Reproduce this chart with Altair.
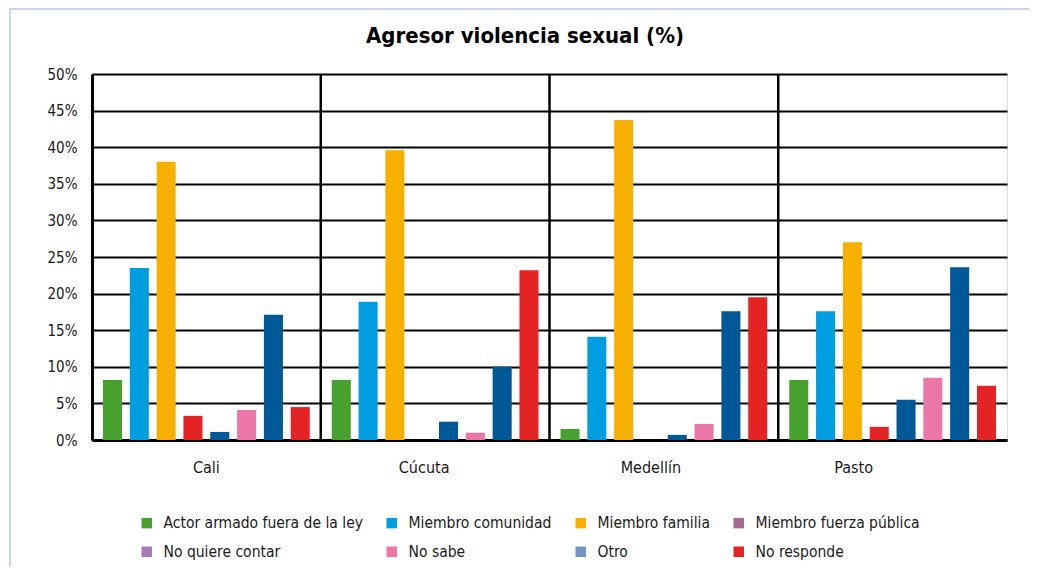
import altair as alt
import pandas as pd

cities = ["Cali", "Cúcuta", "Medellín", "Pasto"]
series = [
    "Actor armado fuera de la ley",
    "Miembro comunidad",
    "Miembro familia",
    "Miembro fuerza pública",
    "No quiere contar",
    "No sabe",
    "Otro",
    "No responde",
]
cali_values = [8.2, 23.5, 38.0, 3.3, 1.1, 4.1, 17.1, 4.5]
cucuta_values = [8.2, 18.9, 39.6, 0.0, 2.5, 1.0, 10.0, 23.2]
medellin_values = [1.5, 14.1, 43.7, 0.0, 0.7, 2.2, 17.6, 19.5]
pasto_values = [8.2, 17.6, 27.0, 1.8, 5.5, 8.5, 23.6, 7.4]
y_ticks = [0, 5, 10, 15, 20, 25, 30, 35, 40, 45, 50]

bar_colors = ["#48A02F", "#009EE0", "#F8B000", "#E42324", "#005896", "#EB77A8", "#005896", "#E42324"]
legend_colors = ["#48A02F", "#009EE0", "#F8B000", "#A66B93", "#A77BB5", "#EB77A8", "#7096C8", "#E42324"]

rows = []
for city, vals in zip(cities, [cali_values, cucuta_values, medellin_values, pasto_values]):
    for s, v, c in zip(series, vals, bar_colors):
        rows.append({"ciudad": city, "serie": s, "valor": v, "relleno": c, "cero": 0})
df = pd.DataFrame(rows)

NARROW = "Liberation Sans Narrow, Arial Narrow, DejaVu Sans Condensed, sans-serif"
FRAME = "#C8D5E9"

x_enc = alt.X(
    "ciudad:N",
    sort=cities,
    scale=alt.Scale(paddingInner=0, paddingOuter=0),
    axis=alt.Axis(
        title=None,
        labelAngle=0,
        labelFont=NARROW,
        labelFontSize=16,
        labelColor="#1a1a1a",
        labelPadding=19,
        ticks=False,
        grid=False,
        domainColor="black",
        domainWidth=3,
        labelOffset={
            "condition": [
                {"test": "datum.value == 'Cúcuta'", "value": -11},
                {"test": "datum.value == 'Medellín'", "value": -13},
                {"test": "datum.value == 'Pasto'", "value": -39},
            ],
            "value": 0,
        },
    ),
)
xoff_enc = alt.XOffset("serie:N", sort=series, scale=alt.Scale(paddingInner=0.29, paddingOuter=0.41))
y_scale = alt.Scale(domain=[0, 50], nice=False)
y_axis = alt.Axis(
    title=None,
    values=y_ticks,
    labelExpr="datum.value + '%'",
    labelFont=NARROW,
    labelFontSize=15,
    labelColor="#1a1a1a",
    labelPadding=15,
    ticks=False,
    grid=True,
    gridColor="black",
    gridWidth=2,
    domainColor="black",
    domainWidth=3,
)

bars = alt.Chart(df).mark_bar().encode(
    x=x_enc,
    xOffset=xoff_enc,
    y=alt.Y("valor:Q", scale=y_scale, axis=y_axis),
    fill=alt.Fill("relleno:N", scale=None),
)

legend_layer = alt.Chart(df).mark_bar().encode(
    x=x_enc,
    xOffset=xoff_enc,
    y=alt.Y("cero:Q", scale=y_scale, axis=y_axis),
    color=alt.Color(
        "serie:N",
        sort=series,
        scale=alt.Scale(domain=series, range=legend_colors),
        legend=alt.Legend(
            title=None,
            orient="none",
            legendX=47,
            legendY=441,
            direction="horizontal",
            columns=4,
            columnPadding=21,
            rowPadding=12,
            symbolType="square",
            symbolSize=110,
            symbolStrokeWidth=0,
            labelOffset=9,
            labelFont=NARROW,
            labelFontSize=15.5,
            labelColor="#1a1a1a",
            labelLimit=0,
            padding=0,
        ),
    ),
)

dividers = alt.Chart(pd.DataFrame({"ciudad": cities[1:]})).mark_rule(color="black", strokeWidth=2.5).encode(
    x=alt.X("ciudad:N", sort=cities, bandPosition=0)
)

frame_src = pd.DataFrame({"marco": ["borde"]})
frame_left = alt.Chart(frame_src).mark_rule(color=FRAME, strokeWidth=2).encode(
    x=alt.value(-82), y=alt.value(-65), y2=alt.value(493)
)
frame_top = alt.Chart(frame_src).mark_rule(color=FRAME, strokeWidth=2).encode(
    x=alt.value(-83), x2=alt.value(937), y=alt.value(-65)
)

chart = (
    alt.layer(frame_left, frame_top, bars, legend_layer, dividers)
    .properties(
        width=915,
        height=366,
        padding={"left": 0, "top": 0, "right": 0, "bottom": 0},
        title=alt.TitleParams(
            "Agresor violencia sexual (%)",
            font=NARROW,
            fontSize=22,
            fontWeight="bold",
            color="black",
            anchor="middle",
            frame="bounds",
            offset=-40,
            dx=6,
        ),
    )
    .configure_view(stroke="black", strokeWidth=3)
    .configure(background="white")
)

chart.save("out.html", embed_options={"renderer": "svg", "actions": False})
